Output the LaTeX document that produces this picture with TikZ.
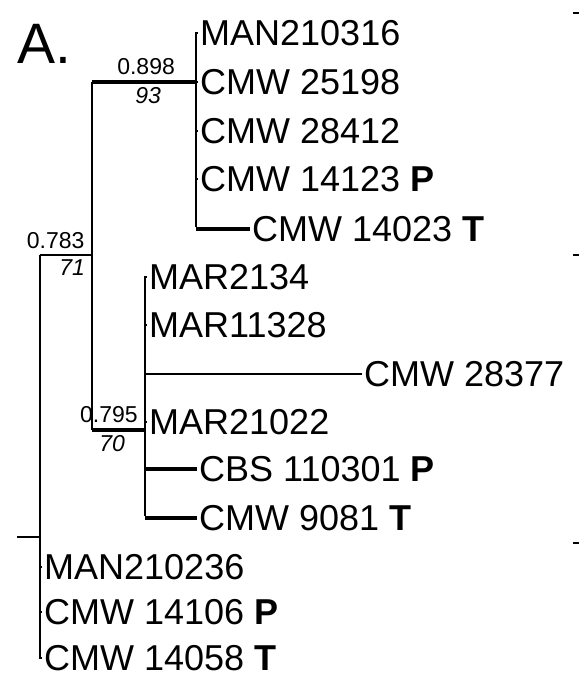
\documentclass[tikz,border=0pt]{standalone}
\usepackage{fontspec}
\setmainfont{Liberation Sans}
\usetikzlibrary{positioning}
\tikzset{
  br/.style={line width=1.9pt, black},
  bold/.style={line width=3.8pt, black},
  taxon/.style={anchor=west, inner sep=2pt, font=\fontsize{36}{40}\selectfont},
  supp/.style={inner sep=1pt, above=4pt, font=\fontsize{23}{26}\selectfont},
  boot/.style={inner sep=1pt, below=3pt, font=\fontsize{23}{26}\selectfont\itshape}}

\begin{document}
\begin{tikzpicture}[x=1pt, y=-1pt]
\useasboundingbox (0,0) rectangle (579,687);
\node[inner sep=0pt, font=\fontsize{57}{60}\selectfont] (panel) at (44,44) {A.};
\coordinate (rootstub) at (17,537);
\coordinate (root) at (40,537);
\coordinate (n783) at (40,255);
\coordinate (v783) at (92,255);
\coordinate (a898) at (92,82);
\coordinate (n898) at (196,82);
\coordinate (a795) at (92,430);
\coordinate (n795) at (145,430);
\node[taxon] (man316) at (198,33) {MAN210316};
\node[taxon] (cmw25198) at (198,82) {CMW 25198};
\node[taxon] (cmw28412) at (198,131) {CMW 28412};
\node[taxon] (cmw14123) at (198,179) {CMW 14123 \textbf{P}};
\node[taxon] (cmw14023) at (250,229) {CMW 14023 \textbf{T}};
\node[taxon] (mar2134) at (147,277) {MAR2134};
\node[taxon] (mar11328) at (147,325) {MAR11328};
\node[taxon] (cmw28377) at (362,374) {CMW 28377};
\node[taxon] (mar21022) at (147,422) {MAR21022};
\node[taxon] (cbs110301) at (197,469) {CBS 110301 \textbf{P}};
\node[taxon] (cmw9081) at (197,518) {CMW 9081 \textbf{T}};
\node[taxon] (man236) at (42,567) {MAN210236};
\node[taxon] (cmw14106) at (42,612) {CMW 14106 \textbf{P}};
\node[taxon] (cmw14058) at (42,658) {CMW 14058 \textbf{T}};
\draw[br] (rootstub) -- (root);
\draw[br] (n783) |- (cmw14058.west);
\draw[br] (root |- man236.west) -- (man236.west);
\draw[br] (root |- cmw14106.west) -- (cmw14106.west);
\draw[br] (n783) -- (v783) node[supp, pos=0.3] {0.783} node[boot, pos=0.62] {71};
\draw[br] (a898) -- (a795);
\draw[bold] (a898) -- (n898) node[supp, pos=0.52] {0.898} node[boot, pos=0.54] {93};
\draw[br] (man316.west) -| (n898) -- ([yshift=1.9pt]n898 |- cmw14023.west);
\draw[br] (n898) -- (cmw25198.west);
\draw[br] (n898 |- cmw28412.west) -- (cmw28412.west);
\draw[br] (n898 |- cmw14123.west) -- (cmw14123.west);
\draw[bold] (n898 |- cmw14023.west) -- (cmw14023.west);
\draw[bold] (a795) -- (n795) node[supp, pos=0.32] {0.795} node[boot, pos=0.38] {70};
\draw[br] (mar2134.west) -| ([yshift=1.9pt]n795 |- cmw9081.west);
\draw[br] (n795 |- mar11328.west) -- (mar11328.west);
\draw[br] (n795 |- cmw28377.west) -- (cmw28377.west);
\draw[br] (n795 |- mar21022.west) -- (mar21022.west);
\draw[bold] (n795 |- cbs110301.west) -- (cbs110301.west);
\draw[bold] (n795 |- cmw9081.west) -- (cmw9081.west);
\foreach \y in {13,255,543}
  \draw[br] (573,\y) -- (579,\y);
\end{tikzpicture}
\end{document}
